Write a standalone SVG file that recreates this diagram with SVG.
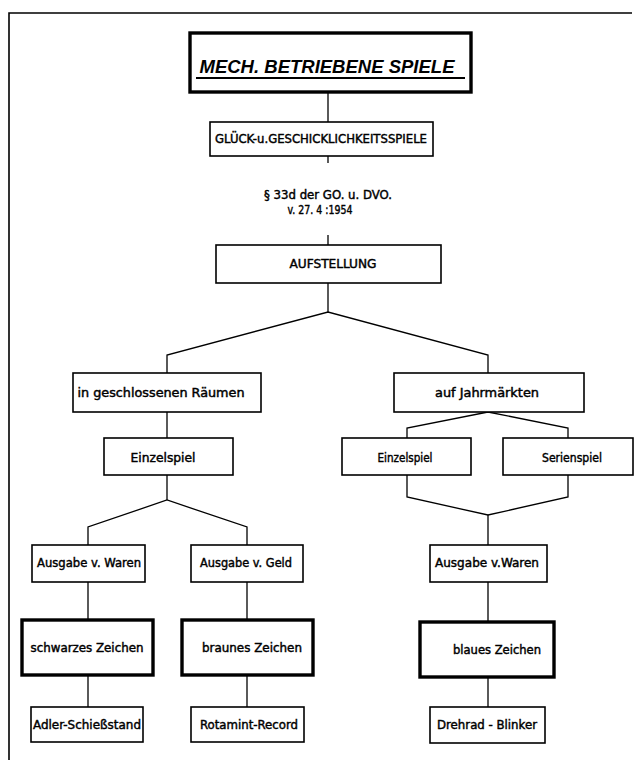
<svg xmlns="http://www.w3.org/2000/svg" width="639" height="760" viewBox="0 0 639 760">
<style>
.box{fill:#fff;stroke:#000;stroke-width:1.6}
.thick{fill:#fff;stroke:#000;stroke-width:3.4}
.con{fill:none;stroke:#000;stroke-width:1.3}
.t{font-family:"DejaVu Sans Condensed","Liberation Sans",sans-serif;font-size:12px;fill:#000;stroke:#000;stroke-width:0.4;text-anchor:middle;dominant-baseline:central}
.title{font-family:"Liberation Sans",sans-serif;font-size:19px;font-weight:bold;font-style:italic;fill:#000;text-anchor:middle;dominant-baseline:central}
</style>
<rect width="639" height="760" fill="#fff"/>
<g id="frame" class="con" style="stroke-width:1.6">
<polyline points="632,13 9,13 9,760"/>
</g>
<g id="connectors" class="con">
<line x1="328" y1="92" x2="328" y2="122"/>
<line x1="328" y1="156" x2="328" y2="163"/>
<line x1="328" y1="235" x2="328" y2="245"/>
<line x1="328" y1="283" x2="328" y2="312"/>
<polyline points="167,373 167,355 328,312 488,355 488,373"/>
<line x1="167" y1="412" x2="167" y2="438"/>
<polyline points="407,438 407,428 488,412 568,428 568,438"/>
<polyline points="407,475 407,497 488,515 568,497 568,475"/>
<line x1="488" y1="515" x2="488" y2="545"/>
<line x1="167" y1="475" x2="167" y2="500"/>
<polyline points="88,545 88,527 167,500 247,527 247,545"/>
<line x1="88" y1="582" x2="88" y2="620"/>
<line x1="247" y1="582" x2="247" y2="620"/>
<line x1="488" y1="582" x2="488" y2="622"/>
<line x1="88" y1="675" x2="88" y2="707"/>
<line x1="247" y1="675" x2="247" y2="707"/>
<line x1="488" y1="677" x2="488" y2="707"/>
</g>
<g id="title">
<rect class="thick" x="190" y="33" width="281" height="59"/>
<text class="title" x="327" y="66" textLength="255" lengthAdjust="spacingAndGlyphs">MECH. BETRIEBENE SPIELE</text>
<line x1="196" y1="78" x2="465" y2="78" stroke="#000" stroke-width="2"/>
</g>
<g id="glueck">
<rect class="box" x="210" y="122" width="223" height="34"/>
<text class="t" x="321" y="139" font-size="11" textLength="212" lengthAdjust="spacingAndGlyphs">GLÜCK-u.GESCHICKLICHKEITSSPIELE</text>
</g>
<g id="paragraph">
<text class="t" x="328" y="195" font-size="11" textLength="128" lengthAdjust="spacingAndGlyphs">§ 33d der  GO. u. DVO.</text>
<text class="t" x="320" y="210" font-size="11" textLength="65" lengthAdjust="spacingAndGlyphs">v. 27. 4 :1954</text>
</g>
<g id="aufstellung">
<rect class="box" x="216" y="245" width="225" height="38"/>
<text class="t" x="333" y="264" font-size="11" textLength="87" lengthAdjust="spacingAndGlyphs">AUFSTELLUNG</text>
</g>
<g id="raeume">
<rect class="box" x="73" y="373" width="188" height="39"/>
<text class="t" x="161" y="393" textLength="167" lengthAdjust="spacingAndGlyphs">in geschlossenen  Räumen</text>
</g>
<g id="jahrmaerkte">
<rect class="box" x="394" y="373" width="190" height="39"/>
<text class="t" x="487" y="393" textLength="104" lengthAdjust="spacingAndGlyphs">auf  Jahrmärkten</text>
</g>
<g id="einzel-links">
<rect class="box" x="104" y="438" width="129" height="37"/>
<text class="t" x="163" y="458" textLength="65" lengthAdjust="spacingAndGlyphs">Einzelspiel</text>
</g>
<g id="einzel-rechts">
<rect class="box" x="342" y="438" width="129" height="37"/>
<text class="t" x="405" y="458" textLength="55" lengthAdjust="spacingAndGlyphs">Einzelspiel</text>
</g>
<g id="serien">
<rect class="box" x="503" y="438" width="130" height="37"/>
<text class="t" x="572" y="458" textLength="60" lengthAdjust="spacingAndGlyphs">Serienspiel</text>
</g>
<g id="waren-links">
<rect class="box" x="32" y="545" width="113" height="37"/>
<text class="t" x="89" y="563" textLength="104" lengthAdjust="spacingAndGlyphs">Ausgabe v. Waren</text>
</g>
<g id="geld">
<rect class="box" x="191" y="545" width="112" height="37"/>
<text class="t" x="246" y="563" textLength="92" lengthAdjust="spacingAndGlyphs">Ausgabe v. Geld</text>
</g>
<g id="waren-rechts">
<rect class="box" x="430" y="545" width="117" height="37"/>
<text class="t" x="487" y="563" textLength="104" lengthAdjust="spacingAndGlyphs">Ausgabe v.Waren</text>
</g>
<g id="schwarz">
<rect class="thick" x="22" y="620" width="131" height="55"/>
<text class="t" x="87" y="648" textLength="113" lengthAdjust="spacingAndGlyphs">schwarzes  Zeichen</text>
</g>
<g id="braun">
<rect class="thick" x="182" y="620" width="131" height="55"/>
<text class="t" x="252" y="648" textLength="100" lengthAdjust="spacingAndGlyphs">braunes  Zeichen</text>
</g>
<g id="blau">
<rect class="thick" x="420" y="622" width="134" height="55"/>
<text class="t" x="497" y="650" textLength="88" lengthAdjust="spacingAndGlyphs">blaues Zeichen</text>
</g>
<g id="adler">
<rect class="box" x="31" y="707" width="112" height="35"/>
<text class="t" x="87" y="725" textLength="108" lengthAdjust="spacingAndGlyphs">Adler-Schießstand</text>
</g>
<g id="rotamint">
<rect class="box" x="191" y="707" width="113" height="35"/>
<text class="t" x="249" y="725" textLength="98" lengthAdjust="spacingAndGlyphs">Rotamint-Record</text>
</g>
<g id="drehrad">
<rect class="box" x="430" y="707" width="115" height="36"/>
<text class="t" x="487" y="725" textLength="100" lengthAdjust="spacingAndGlyphs">Drehrad - Blinker</text>
</g>
</svg>
